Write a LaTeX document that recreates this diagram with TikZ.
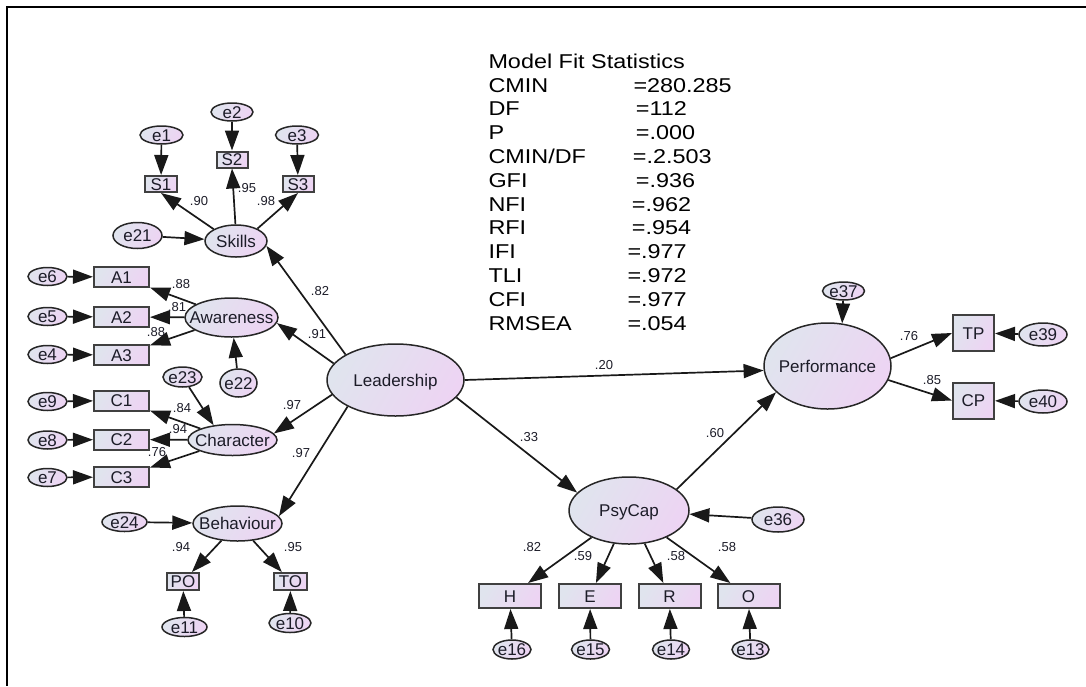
\documentclass[tikz,border=0pt]{standalone}
\usepackage{fontspec}
\setmainfont{Liberation Sans}
\newfontfamily\statfont[FakeStretch=1.17]{Liberation Sans}
\usetikzlibrary{shapes.geometric,arrows.meta}
\definecolor{fillA}{RGB}{224,228,238}
\definecolor{fillB}{RGB}{237,212,243}
\definecolor{ink}{RGB}{28,28,40}
\newcommand{\nt}[1]{\makebox[0pt]{#1}}
\tikzset{
  base/.style={draw=black!85, line width=1.5pt, left color=fillA, right color=fillB,
    shading angle=60, inner sep=0pt, text=ink, font=\fontsize{17}{19}\selectfont,
    text height=12pt, text depth=0pt},
  lat/.style={base, ellipse},
  obs/.style={base, rectangle, draw=black!75, line width=2pt},
  path/.style={draw=black!90, line width=1.7pt, -{Triangle[length=20pt,width=14pt]}},
  coef/.style={font=\fontsize{13}{15}\selectfont, text=ink, inner sep=0pt},
  stat/.style={anchor=base west, inner sep=0pt, text=black,
    font=\statfont\fontsize{20}{24}\selectfont},
}
\begin{document}
\begin{tikzpicture}[x=1pt,y=-1pt]
\useasboundingbox (0,0) rectangle (1086,686);
% frame
\draw[line width=1.3pt, black] (1086,7) -- (7,7) -- (7,686);

% ---------- Skills cluster
\node[lat, minimum width=62pt, minimum height=32pt] (skills) at (236,241) {\nt{Skills}};
\node[obs, minimum width=32pt, minimum height=16pt] (S1) at (161,184) {\nt{S1}};
\node[obs, minimum width=31pt, minimum height=16pt] (S2) at (232,159.5) {\nt{S2}};
\node[obs, minimum width=31pt, minimum height=16pt] (S3) at (298,184) {\nt{S3}};
\node[lat, minimum width=43pt, minimum height=18pt] (e1) at (161.5,135) {\nt{e1}};
\node[lat, minimum width=42pt, minimum height=18pt] (e2) at (232,112) {\nt{e2}};
\node[lat, minimum width=43pt, minimum height=18pt] (e3) at (297,135) {\nt{e3}};
\node[lat, minimum width=49pt, minimum height=26pt] (e21) at (137.5,235.5) {\nt{e21}};

% ---------- Awareness cluster
\node[lat, minimum width=93pt, minimum height=39pt] (aware) at (231.5,317.5) {\nt{Awareness}};
\node[obs, minimum width=55pt, minimum height=20pt] (A1) at (121.5,277) {\nt{A1}};
\node[obs, minimum width=55pt, minimum height=20pt] (A2) at (121.5,317) {\nt{A2}};
\node[obs, minimum width=55pt, minimum height=20pt] (A3) at (121.5,355) {\nt{A3}};
\node[lat, minimum width=39pt, minimum height=18pt] (e6) at (47.5,276.5) {\nt{e6}};
\node[lat, minimum width=39pt, minimum height=18pt] (e5) at (47.5,316.5) {\nt{e5}};
\node[lat, minimum width=39pt, minimum height=18pt] (e4) at (47.5,354.5) {\nt{e4}};
\node[lat, minimum width=37pt, minimum height=28pt] (e22) at (238.5,383) {\nt{e22}};

% ---------- Character cluster
\node[lat, minimum width=89pt, minimum height=31pt] (char) at (232.5,440) {\nt{Character}};
\node[obs, minimum width=55pt, minimum height=20pt] (C1) at (121.5,400.5) {\nt{C1}};
\node[obs, minimum width=55pt, minimum height=20pt] (C2) at (121.5,439.5) {\nt{C2}};
\node[obs, minimum width=55pt, minimum height=20pt] (C3) at (121.5,477) {\nt{C3}};
\node[lat, minimum width=39pt, minimum height=18pt] (e9) at (47.5,401.5) {\nt{e9}};
\node[lat, minimum width=39pt, minimum height=18pt] (e8) at (47.5,440) {\nt{e8}};
\node[lat, minimum width=39pt, minimum height=18pt] (e7) at (47.5,477.5) {\nt{e7}};
\node[lat, minimum width=39pt, minimum height=20pt] (e23) at (182.5,377) {\nt{e23}};

% ---------- Behaviour cluster
\node[lat, minimum width=89pt, minimum height=35pt] (behav) at (237.5,523.5) {\nt{Behaviour}};
\node[obs, minimum width=32pt, minimum height=17pt] (PO) at (183,581.5) {\nt{PO}};
\node[obs, minimum width=33pt, minimum height=17pt] (TO) at (290.5,581.5) {\nt{TO}};
\node[lat, minimum width=45pt, minimum height=19pt] (e24) at (124.5,522) {\nt{e24}};
\node[lat, minimum width=45pt, minimum height=19pt] (e11) at (184.5,627) {\nt{e11}};
\node[lat, minimum width=42pt, minimum height=19pt] (e10) at (290,623) {\nt{e10}};

% ---------- Leadership
\node[lat, minimum width=137pt, minimum height=72pt] (lead) at (395.5,380) {\nt{Leadership}};

% ---------- PsyCap cluster
\node[lat, minimum width=120pt, minimum height=67pt] (psy) at (629,510.5) {\nt{PsyCap}};
\node[lat, minimum width=52pt, minimum height=25pt] (e36) at (778,519.5) {\nt{e36}};
\node[obs, minimum width=62pt, minimum height=24pt] (H) at (510,596) {\nt{H}};
\node[obs, minimum width=62pt, minimum height=24pt] (E) at (590,596) {\nt{E}};
\node[obs, minimum width=62pt, minimum height=24pt] (R) at (669.5,596) {\nt{R}};
\node[obs, minimum width=62pt, minimum height=24pt] (O) at (748.5,596) {\nt{O}};
\node[lat, minimum width=38pt, minimum height=19pt] (e16) at (512,649.5) {\nt{e16}};
\node[lat, minimum width=38pt, minimum height=19pt] (e15) at (590.5,649.5) {\nt{e15}};
\node[lat, minimum width=37pt, minimum height=19pt] (e14) at (671,649.5) {\nt{e14}};
\node[lat, minimum width=37pt, minimum height=19pt] (e13) at (750.5,649.5) {\nt{e13}};

% ---------- Performance cluster
\node[lat, minimum width=127pt, minimum height=86pt] (perf) at (827.5,366) {\nt{Performance}};
\node[lat, minimum width=42pt, minimum height=18pt] (e37) at (843.5,291) {\nt{e37}};
\node[obs, minimum width=41pt, minimum height=36pt] (TP) at (973.5,333) {\nt{TP}};
\node[obs, minimum width=41pt, minimum height=36pt] (CP) at (973.5,400.5) {\nt{CP}};
\node[lat, minimum width=48pt, minimum height=23pt] (e39) at (1043,334.5) {\nt{e39}};
\node[lat, minimum width=48pt, minimum height=23pt] (e40) at (1043,401.5) {\nt{e40}};

% ---------- paths
\draw[path] (e1) -- (S1);
\draw[path] (e2) -- (S2);
\draw[path] (e3) -- (S3);
\draw[path] (skills.152) -- (S1.south);
\draw[path] (skills.92) -- (S2.south);
\draw[path] (skills.30) -- (S3.south);
\draw[path] (e21) -- (skills);

\draw[path] (e6) -- (A1);
\draw[path] (e5) -- (A2);
\draw[path] (e4) -- (A3);
\draw[path] (aware) -- (A1);
\draw[path] (aware) -- (A2);
\draw[path] (aware) -- (A3);
\draw[path] (e22) -- (aware);

\draw[path] (e9) -- (C1);
\draw[path] (e8) -- (C2);
\draw[path] (e7) -- (C3);
\draw[path] (char) -- (C1);
\draw[path] (char) -- (C2);
\draw[path] (char) -- (C3);
\draw[path] (e23) -- (char.142);

\draw[path] (e24) -- (behav);
\draw[path] (behav) -- (PO);
\draw[path] (behav) -- (TO);
\draw[path] (e11) -- (PO);
\draw[path] (e10) -- (TO);

\draw[path] (lead.153) -- (skills.-9);
\draw[path] (lead.165) -- (aware.-7);
\draw[path] (lead.193) -- (char.9);
\draw[path] (lead.209) -- (behav.10);
\draw[path] (lead.east) -- (perf.184);
\draw[path] (lead.-16) -- (psy.161);
\draw[path] (psy.24) -- (perf.207);

\draw[path] (e36) -- (psy);
\draw[path] (psy) -- (H);
\draw[path] (psy) -- (E);
\draw[path] (psy) -- (R);
\draw[path] (psy) -- (O);
\draw[path] (e16) -- (H);
\draw[path] (e15) -- (E);
\draw[path] (e14) -- (R);
\draw[path] (e13) -- (O);

\draw[path] (e37) -- (perf.71);
\draw[path] (perf.7.5) -- (TP.west);
\draw[path] (perf.-13) -- (CP.west);
\draw[path] (e39) -- (TP);
\draw[path] (e40) -- (CP);

% ---------- coefficients
\node[coef] (c1) at (199,201) {.90};
\node[coef] (c2) at (247,188) {.95};
\node[coef] (c3) at (266,201) {.98};
\node[coef] (c4) at (181,284) {.88};
\node[coef] (c5) at (177,307) {.81};
\node[coef] (c6) at (156,332) {.88};
\node[coef] (c7) at (182,408) {.84};
\node[coef] (c8) at (178,429) {.94};
\node[coef] (c9) at (157,452) {.76};
\node[coef] (c10) at (320,291) {.82};
\node[coef] (c11) at (317,334) {.91};
\node[coef] (c12) at (292,405) {.97};
\node[coef] (c13) at (301,453) {.97};
\node[coef] (c14) at (181,547) {.94};
\node[coef] (c15) at (293,547) {.95};
\node[coef] (c16) at (604,365) {.20};
\node[coef] (c17) at (529,437) {.33};
\node[coef] (c18) at (715,433) {.60};
\node[coef] (c19) at (909,336) {.76};
\node[coef] (c20) at (932,380) {.85};
\node[coef] (c21) at (532,547) {.82};
\node[coef] (c22) at (583,556) {.59};
\node[coef] (c23) at (676,556) {.58};
\node[coef] (c24) at (727,547) {.58};

% ---------- fit statistics
\node[stat] (t0) at (488.3,68.3) {Model Fit Statistics};
\node[stat] (l1) at (488.3,92.1) {CMIN};      \node[stat] (v1) at (633.3,92.1) {=280.285};
\node[stat] (l2) at (488.3,115.9) {DF};       \node[stat] (v2) at (635.7,115.9) {=112};
\node[stat] (l3) at (488.3,139.7) {P};        \node[stat] (v3) at (635.7,139.7) {=.000};
\node[stat] (l4) at (488.3,163.5) {CMIN/DF};  \node[stat] (v4) at (632.7,163.5) {=.2.503};
\node[stat] (l5) at (488.3,187.3) {GFI};      \node[stat] (v5) at (635.7,187.3) {=.936};
\node[stat] (l6) at (488.3,211.1) {NFI};      \node[stat] (v6) at (631.7,211.1) {=.962};
\node[stat] (l7) at (488.3,234.9) {RFI};      \node[stat] (v7) at (631.7,234.9) {=.954};
\node[stat] (l8) at (488.3,258.7) {IFI};      \node[stat] (v8) at (627.3,258.7) {=.977};
\node[stat] (l9) at (488.3,282.5) {TLI};      \node[stat] (v9) at (627.3,282.5) {=.972};
\node[stat] (l10) at (488.3,306.3) {CFI};     \node[stat] (v10) at (627.3,306.3) {=.977};
\node[stat] (l11) at (488.3,330.1) {RMSEA};   \node[stat] (v11) at (627.3,330.1) {=.054};
\end{tikzpicture}
\end{document}
